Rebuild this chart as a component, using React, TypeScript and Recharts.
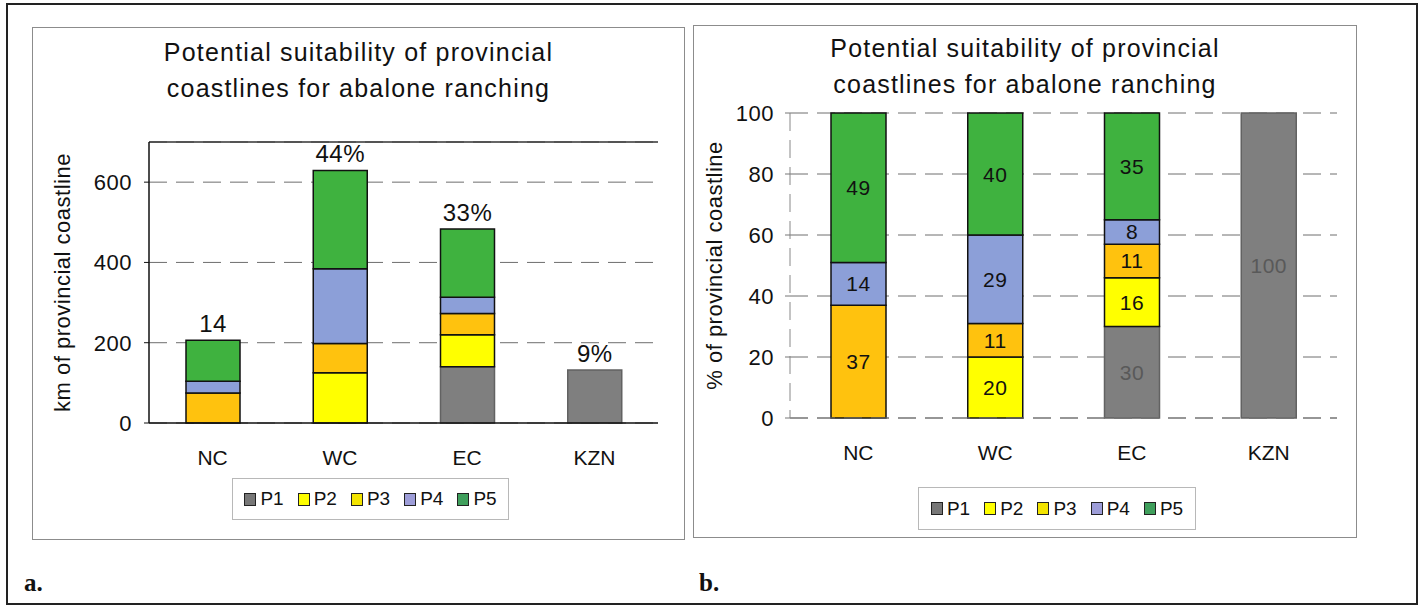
import React from 'react';
import { BarChart, Bar, XAxis, YAxis, CartesianGrid, Legend, LabelList, ReferenceLine, Label } from 'recharts';

const provinces = ['NC', 'WC', 'EC', 'KZN'];
const seriesNames = ['P1', 'P2', 'P3', 'P4', 'P5'];

// panel a: km of coastline in each suitability class
const kmP1 = [0, 0, 140, 132];
const kmP2 = [0, 125, 80, 0];
const kmP3 = [75, 73, 53, 0];
const kmP4 = [29, 186, 40, 0];
const kmP5 = [102, 245, 170, 0];
const kmTopLabels = ['14', '44%', '33%', '9%'];
const kmTicks = [0, 200, 400, 600];

// panel b: % of each province's coastline
const pctP1 = [0, 0, 30, 100];
const pctP2 = [0, 20, 16, 0];
const pctP3 = [37, 11, 11, 0];
const pctP4 = [14, 29, 8, 0];
const pctP5 = [49, 40, 35, 0];
const pctTicks = [0, 20, 40, 60, 80, 100];

const FONT = '"Liberation Sans", Arial, Helvetica, sans-serif';

const barFill: Record<string, string> = {
  P1: '#7f7f7f',
  P2: '#ffff00',
  P3: '#ffc20e',
  P4: '#8c9fd8',
  P5: '#3fb23f',
};
const barStroke: Record<string, string> = {
  P1: '#626262',
  P2: '#111',
  P3: '#111',
  P4: '#111',
  P5: '#111',
};
// the legend swatches in the scan are a bit off from the bar colours
const legendFill: Record<string, string> = {
  P1: '#777777',
  P2: '#ffff00',
  P3: '#f3e400',
  P4: '#9d9dd8',
  P5: '#3f9f5c',
};

const makeRows = (s1: number[], s2: number[], s3: number[], s4: number[], s5: number[]) =>
  provinces.map((name, i) => ({ name, P1: s1[i], P2: s2[i], P3: s3[i], P4: s4[i], P5: s5[i] }));

const kmRows = makeRows(kmP1, kmP2, kmP3, kmP4, kmP5);
const pctRows = makeRows(pctP1, pctP2, pctP3, pctP4, pctP5);

const topKey = (row: any) => [...seriesNames].reverse().find((k) => row[k] > 0);

const box = (p: any) => {
  const v = p.viewBox && p.viewBox.width !== undefined ? p.viewBox : p;
  return { x: Number(v.x), y: Number(v.y), w: Number(v.width), h: Number(v.height) };
};

// labels are hung on dataKey="name" so the province is known even when zero bars are skipped
const topLabel = (key: string) => (props: any) => {
  const i = provinces.indexOf(props.value);
  if (i < 0 || topKey(kmRows[i]) !== key) return null;
  const { x, y, w } = box(props);
  return (
    <text x={x + w / 2} y={y - 17} textAnchor="middle" dominantBaseline="central"
      fontSize={24} fontFamily={FONT} letterSpacing={0.5} fill="#111">
      {kmTopLabels[i]}
    </text>
  );
};

const innerLabel = (key: string) => (props: any) => {
  const i = provinces.indexOf(props.value);
  if (i < 0) return null;
  const v = (pctRows[i] as any)[key];
  if (!v) return null;
  const { x, y, w, h } = box(props);
  return (
    <text x={x + w / 2} y={y + h / 2} textAnchor="middle" dominantBaseline="central"
      fontSize={21} fontFamily={FONT} letterSpacing={0.5} fill={key === 'P1' ? '#595959' : '#111'}>
      {v}
    </text>
  );
};

const yTitle = (text: string, cx: number) => (props: any) => {
  const vb = props.viewBox || {};
  const cy = vb.y + vb.height / 2;
  return (
    <text x={cx} y={cy} transform={`rotate(-90 ${cx} ${cy})`} textAnchor="middle" dominantBaseline="central"
      fontSize={22} fontFamily={FONT} letterSpacing={0.5} fill="#111">
      {text}
    </text>
  );
};

const LegendBox = ({ width, height }: { width: number; height: number }) => (
  <div style={{
    width, height, boxSizing: 'border-box', border: '1px solid #b8b8b8', background: '#fff',
    display: 'flex', alignItems: 'center', justifyContent: 'center', gap: 14,
    fontFamily: FONT, fontSize: 19, color: '#111',
  }}>
    {seriesNames.map((s) => (
      <span key={s} style={{ display: 'flex', alignItems: 'center' }}>
        <span style={{
          display: 'inline-block', width: 10, height: 11, border: '1.5px solid #222',
          background: legendFill[s], marginRight: 4,
        }} />
        {s}
      </span>
    ))}
  </div>
);

const tickStyle = { fontSize: 22, fontFamily: FONT, fill: '#111', letterSpacing: 0.5 };
const catStyle = { fontSize: 21, fontFamily: FONT, fill: '#111' };

const Title = ({ left, top, width }: { left: number; top: number; width: number }) => (
  <div style={{
    position: 'absolute', left, top, width, textAlign: 'center', fontFamily: FONT,
    fontSize: 25, lineHeight: '36px', letterSpacing: 1.2, color: '#111',
  }}>
    Potential suitability of provincial<br />coastlines for abalone ranching
  </div>
);

const KmChart = () => (
  <BarChart width={653} height={513} data={kmRows} barSize={54}
    margin={{ top: 115, right: 27, left: 10, bottom: 87 }}>
    <CartesianGrid vertical={false} stroke="#6e6e6e" strokeDasharray="18 9" />
    <XAxis dataKey="name" height={30} tickLine={false} tickSize={0} tickMargin={27}
      axisLine={{ stroke: '#111', strokeWidth: 1.5 }} tick={catStyle} />
    <YAxis width={107} domain={[0, 700]} ticks={kmTicks} tickSize={5} tickMargin={12}
      axisLine={{ stroke: '#111', strokeWidth: 1.5 }} tickLine={{ stroke: '#111' }} tick={tickStyle}>
      <Label content={yTitle('km of provincial coastline', 30)} />
    </YAxis>
    <YAxis yAxisId="edge" orientation="right" width={0} domain={[0, 700]} tick={false} tickLine={false}
      axisLine={{ stroke: '#333', strokeWidth: 1.5 }} />
    <ReferenceLine y={700} stroke="#333" strokeWidth={1.5} />
    {seriesNames.map((k) => (
      <Bar key={k} dataKey={k} stackId="a" fill={barFill[k]} stroke={barStroke[k]} strokeWidth={1.5}
        isAnimationActive={false}>
        <LabelList dataKey="name" content={topLabel(k)} />
      </Bar>
    ))}
    <Legend verticalAlign="middle" align="center" layout="horizontal"
      wrapperStyle={{ left: 200, top: 451, width: 277, height: 42 }}
      content={() => <LegendBox width={277} height={42} />} />
  </BarChart>
);

const PctChart = () => (
  <BarChart width={664} height={513} data={pctRows} barSize={55}
    margin={{ top: 88, right: 20, left: 10, bottom: 90 }}>
    <CartesianGrid vertical={false} stroke="#6e6e6e" strokeDasharray="18 9" />
    <XAxis dataKey="name" height={30} tickLine={false} tickSize={0} tickMargin={27}
      axisLine={{ stroke: '#777', strokeWidth: 1.2, strokeDasharray: '18 9' }} tick={catStyle} />
    <YAxis width={87} domain={[0, 100]} ticks={pctTicks} tickSize={5} tickMargin={11}
      axisLine={{ stroke: '#888', strokeWidth: 1, strokeDasharray: '18 9' }} tickLine={{ stroke: '#777' }} tick={tickStyle}>
      <Label content={yTitle('% of provincial coastline', 21)} />
    </YAxis>
    <YAxis yAxisId="edge" orientation="right" width={0} domain={[0, 100]} tick={false} tickLine={false}
      axisLine={{ stroke: '#888', strokeWidth: 1, strokeDasharray: '18 9' }} />
    {seriesNames.map((k) => (
      <Bar key={k} dataKey={k} stackId="a" fill={barFill[k]} stroke={barStroke[k]} strokeWidth={1.5}
        isAnimationActive={false}>
        <LabelList dataKey="name" content={innerLabel(k)} />
      </Bar>
    ))}
    <Legend verticalAlign="middle" align="center" layout="horizontal"
      wrapperStyle={{ left: 225, top: 462, width: 278, height: 43 }}
      content={() => <LegendBox width={278} height={43} />} />
  </BarChart>
);

export default function App() {
  return (
    <div style={{ position: 'absolute', left: 0, top: 0, width: 1422, height: 606, background: '#fff', overflow: 'hidden' }}>
      <div style={{
        position: 'absolute', left: 6, top: 3, width: 1412, height: 602, boxSizing: 'border-box',
        border: '2px solid #222',
      }} />
      <div style={{
        position: 'absolute', left: 32, top: 27, width: 653, height: 513, boxSizing: 'border-box',
        border: '1px solid #8c8c8c',
      }} />
      <div style={{
        position: 'absolute', left: 693, top: 25, width: 664, height: 513, boxSizing: 'border-box',
        border: '1px solid #8c8c8c',
      }} />
      <div style={{ position: 'absolute', left: 32, top: 27 }}>
        <KmChart />
      </div>
      <div style={{ position: 'absolute', left: 693, top: 25 }}>
        <PctChart />
      </div>
      <Title left={32} top={34} width={653} />
      <Title left={693} top={30} width={664} />
      <div style={{ position: 'absolute', left: 24, top: 569, fontFamily: '"Liberation Serif", "Times New Roman", serif', fontWeight: 'bold', fontSize: 25, color: '#111' }}>a.</div>
      <div style={{ position: 'absolute', left: 699, top: 569, fontFamily: '"Liberation Serif", "Times New Roman", serif', fontWeight: 'bold', fontSize: 25, color: '#111' }}>b.</div>
    </div>
  );
}
